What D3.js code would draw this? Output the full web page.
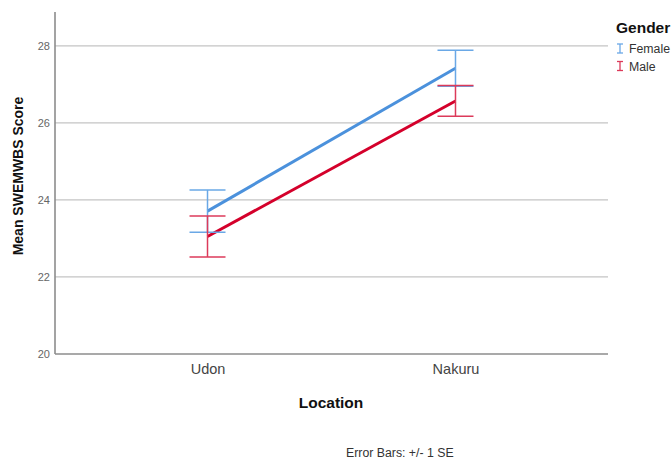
<!DOCTYPE html>
<html>
<head>
<meta charset="utf-8">
<script src="https://cdn.jsdelivr.net/npm/d3@7"></script>
<style>
  html, body { margin: 0; padding: 0; background: #fff; }
  svg { display: block; font-family: "Liberation Sans", Arial, sans-serif; }
</style>
</head>
<body>
<svg id="chart" width="671" height="460"></svg>
<script>
// Mean SWEMWBS score by location and gender, with +/- 1 SE error bars
const locations = ["Udon", "Nakuru"];
const genders = ["Female", "Male"];
const femaleMeans = [23.71, 27.42];
const femaleSE = [0.55, 0.47];
const maleMeans = [23.05, 26.57];
const maleSE = [0.53, 0.40];
const yTicks = [20, 22, 24, 26, 28];
const colors = { Female: "#4b91dc", Male: "#d4002b" };
const barColors = { Female: "#6aa8e6", Male: "#dc3a5a" };

const series = [
  { name: "Female", means: femaleMeans, se: femaleSE },
  { name: "Male", means: maleMeans, se: maleSE }
];

const svg = d3.select("#chart");
const plot = { left: 55, right: 608, top: 12, bottom: 354 };

const x = d3.scalePoint()
  .domain(locations)
  .range([plot.left, plot.right])
  .padding(0.615);

const y = d3.scaleLinear()
  .domain([20, 28.88])
  .range([plot.bottom, plot.top]);

// horizontal gridlines
svg.append("g")
  .selectAll("line")
  .data(yTicks.filter(t => t > 20))
  .join("line")
  .attr("x1", plot.left).attr("x2", plot.right)
  .attr("y1", d => y(d)).attr("y2", d => y(d))
  .attr("stroke", "#c4c4c4").attr("stroke-width", 1.2);

// y axis
const yAxis = svg.append("g")
  .attr("transform", `translate(${plot.left},0)`)
  .call(d3.axisLeft(y).tickValues(yTicks).tickSize(0).tickPadding(5));
yAxis.select(".domain").remove();
yAxis.selectAll("text")
  .attr("font-size", 11).attr("fill", "#666")
  .attr("font-family", "Liberation Sans, Arial, sans-serif");
svg.append("line")
  .attr("x1", plot.left).attr("x2", plot.left)
  .attr("y1", plot.top).attr("y2", plot.bottom)
  .attr("stroke", "#8c8c8c").attr("stroke-width", 1.6);

// x axis
const xAxis = svg.append("g")
  .attr("transform", `translate(0,${plot.bottom})`)
  .call(d3.axisBottom(x).tickSize(0).tickPadding(10));
xAxis.select(".domain").remove();
xAxis.selectAll("text")
  .attr("font-size", 14.5).attr("fill", "#444")
  .attr("font-family", "Liberation Sans, Arial, sans-serif");
svg.append("line")
  .attr("x1", plot.left).attr("x2", plot.right)
  .attr("y1", plot.bottom).attr("y2", plot.bottom)
  .attr("stroke", "#8c8c8c").attr("stroke-width", 1.6);

// axis titles
svg.append("text")
  .attr("transform", "translate(23,176) rotate(-90)")
  .attr("text-anchor", "middle")
  .attr("font-size", 14).attr("font-weight", "bold").attr("fill", "#111")
  .text("Mean SWEMWBS Score");
svg.append("text")
  .attr("x", 331).attr("y", 408)
  .attr("text-anchor", "middle")
  .attr("font-size", 15.5).attr("font-weight", "bold").attr("fill", "#111")
  .text("Location");

// mean lines
const line = d3.line()
  .x((d, i) => x(locations[i]))
  .y(d => y(d));
svg.append("g")
  .selectAll("path")
  .data(series)
  .join("path")
  .attr("d", s => line(s.means))
  .attr("fill", "none")
  .attr("stroke", s => colors[s.name])
  .attr("stroke-width", 3);

// error bars
const cap = 18;
series.forEach(s => {
  const g = svg.append("g")
    .attr("stroke", barColors[s.name])
    .attr("stroke-width", 1.5)
    .attr("fill", "none");
  locations.forEach((loc, i) => {
    const cx = x(loc);
    const hi = y(s.means[i] + s.se[i]);
    const lo = y(s.means[i] - s.se[i]);
    g.append("line").attr("x1", cx).attr("x2", cx).attr("y1", hi).attr("y2", lo);
    g.append("line").attr("x1", cx - cap).attr("x2", cx + cap).attr("y1", hi).attr("y2", hi);
    g.append("line").attr("x1", cx - cap).attr("x2", cx + cap).attr("y1", lo).attr("y2", lo);
  });
});

// legend
const legend = svg.append("g");
legend.append("text")
  .attr("x", 616).attr("y", 33)
  .attr("font-size", 15.5).attr("font-weight", "bold").attr("fill", "#111")
  .text("Gender");
genders.forEach((gname, i) => {
  const ly = 48.5 + i * 17.5;
  const gi = legend.append("g").attr("stroke", barColors[gname]).attr("stroke-width", 1.3);
  gi.append("line").attr("x1", 620).attr("x2", 620).attr("y1", ly - 4.5).attr("y2", ly + 4.5);
  gi.append("line").attr("x1", 617).attr("x2", 623).attr("y1", ly - 4.5).attr("y2", ly - 4.5);
  gi.append("line").attr("x1", 617).attr("x2", 623).attr("y1", ly + 4.5).attr("y2", ly + 4.5);
  legend.append("text")
    .attr("x", 629).attr("y", ly + 4.5)
    .attr("font-size", 12.3).attr("fill", "#333")
    .text(gname);
});

// footnote
svg.append("text")
  .attr("x", 346).attr("y", 457)
  .attr("font-size", 12.3).attr("fill", "#333")
  .text("Error Bars: +/- 1 SE");
</script>
</body>
</html>
